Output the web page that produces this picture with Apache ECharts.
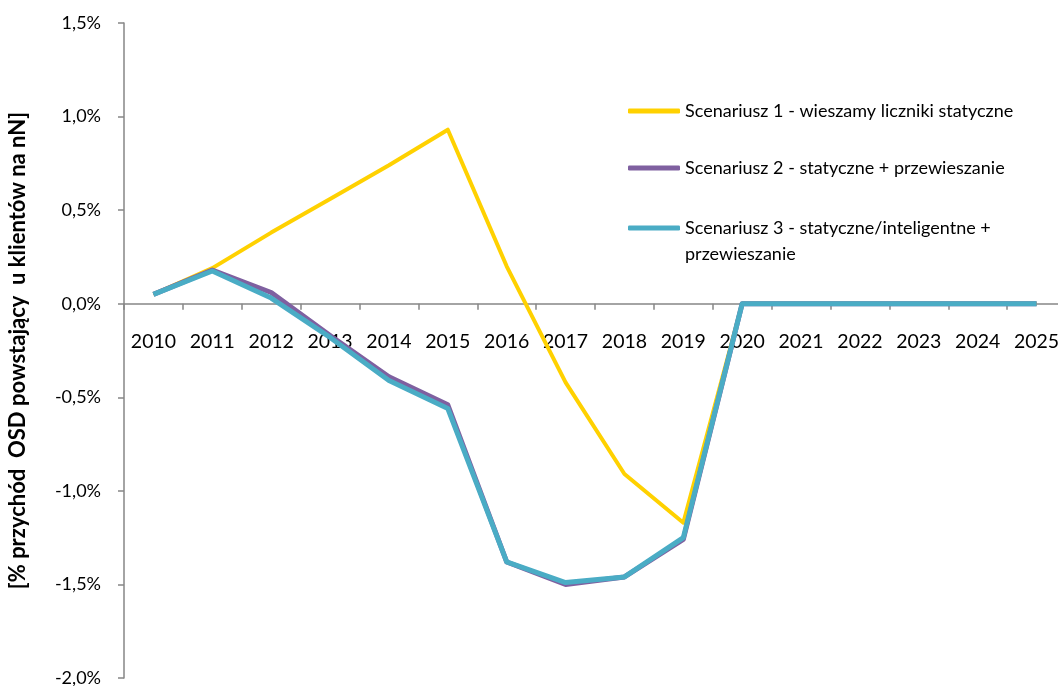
<!DOCTYPE html>
<html>
<head>
<meta charset="utf-8">
<script src="https://cdn.jsdelivr.net/npm/echarts@6/dist/echarts.min.js"></script>
<style>
  html, body { margin: 0; padding: 0; background: #fff; }
  #chart { width: 1058px; height: 686px; }
</style>
</head>
<body>
<div id="chart"></div>
<script>
// Years on the horizontal axis
const years = ['2010','2011','2012','2013','2014','2015','2016','2017',
               '2018','2019','2020','2021','2022','2023','2024','2025'];

// Revenue change in percent for each scenario
const scenario1 = [0.05, 0.19, 0.38, 0.56, 0.74, 0.93, 0.20, -0.42, -0.91, -1.17, 0, 0, 0, 0, 0, 0];
const scenario2 = [0.05, 0.18, 0.06, -0.17, -0.39, -0.54, -1.38, -1.50, -1.46, -1.26, 0, 0, 0, 0, 0, 0];
const scenario3 = [0.05, 0.175, 0.03, -0.18, -0.41, -0.56, -1.38, -1.49, -1.46, -1.25, 0, 0, 0, 0, 0, 0];

// Value axis range (percent)
const Y_MIN = -2, Y_MAX = 1.5, Y_STEP = 0.5;

const seriesNames = [
  'Scenariusz 1 - wieszamy liczniki statyczne',
  'Scenariusz 2 - statyczne + przewieszanie',
  'Scenariusz 3 - statyczne/inteligentne +\nprzewieszanie'
];
const seriesColors = ['#FFD100', '#7F60A0', '#4AACC5'];
const yAxisTitle = '[% przychód  OSD powstający  u klientów na nN]';

const FONT = 'Lato';
const GRID = { left: 124, top: 23, width: 942, height: 655 };
// Lift the category axis from the plot bottom up to the zero line
const zeroOffset = -GRID.height * (0 - Y_MIN) / (Y_MAX - Y_MIN);

const chart = echarts.init(document.getElementById('chart'), null, { renderer: 'canvas' });

// One legend block per scenario; a leading blank line keeps the marker
// beside the first line of a two-line label
function legendBlock(i, top, leadBlank) {
  return {
    orient: 'vertical',
    left: 628,
    top: top,
    padding: 0,
    itemWidth: 52,
    itemHeight: 5,
    icon: 'roundRect',
    formatter: name => (leadBlank ? '\n' : '') + name,
    textStyle: { fontFamily: FONT, fontSize: 18, color: '#000', lineHeight: 26 },
    data: [seriesNames[i]]
  };
}

chart.setOption({
  animation: false,
  backgroundColor: '#ffffff',
  textStyle: { fontFamily: FONT, color: '#000' },
  grid: Object.assign({ outerBoundsMode: 'none', containLabel: false }, GRID),
  legend: [
    legendBlock(0, 98, false),
    legendBlock(1, 155, false),
    legendBlock(2, 189, true)
  ],
  xAxis: {
    type: 'category',
    data: years,
    boundaryGap: true,
    position: 'bottom',
    offset: zeroOffset,
    axisLine: { onZero: false, lineStyle: { color: '#868686', width: 1.5 } },
    axisTick: { show: true, length: 6, alignWithLabel: false, lineStyle: { color: '#868686', width: 1.5 } },
    axisLabel: { show: true, interval: 0, fontFamily: FONT, fontSize: 19.5, color: '#000', margin: 28 },
    splitLine: { show: false }
  },
  yAxis: {
    type: 'value',
    min: Y_MIN,
    max: Y_MAX,
    interval: Y_STEP,
    name: yAxisTitle,
    nameLocation: 'middle',
    nameGap: 95,
    nameRotate: 90,
    nameTextStyle: { fontFamily: FONT, fontSize: 22, fontWeight: 'bold', color: '#000' },
    axisLine: { show: true, lineStyle: { color: '#868686', width: 1.5 } },
    axisTick: { show: true, length: 6, lineStyle: { color: '#868686', width: 1.5 } },
    axisLabel: {
      fontFamily: FONT, fontSize: 18, color: '#000', margin: 23,
      formatter: v => v.toFixed(1).replace('.', ',') + '%'
    },
    splitLine: { show: false }
  },
  series: [
    {
      name: seriesNames[0], type: 'line', data: scenario1, symbol: 'none', z: 3,
      itemStyle: { color: seriesColors[0] },
      lineStyle: { color: seriesColors[0], width: 4, join: 'round' }
    },
    {
      name: seriesNames[1], type: 'line', data: scenario2, symbol: 'none', z: 4,
      itemStyle: { color: seriesColors[1] },
      lineStyle: { color: seriesColors[1], width: 5, join: 'round' }
    },
    {
      name: seriesNames[2], type: 'line', data: scenario3, symbol: 'none', z: 5,
      itemStyle: { color: seriesColors[2] },
      lineStyle: { color: seriesColors[2], width: 5, join: 'round' }
    }
  ]
});
</script>
</body>
</html>
